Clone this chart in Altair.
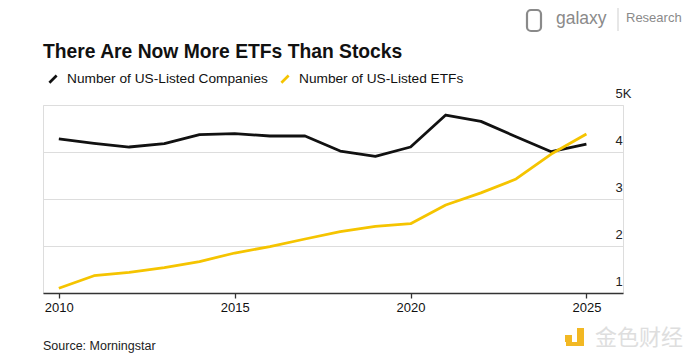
import altair as alt
import pandas as pd

years = list(range(2010, 2026))
companies = [4277, 4185, 4106, 4177, 4368, 4390, 4340, 4340, 4021, 3908, 4106, 4787, 4652, 4326, 4007, 4170]
etfs = [1100, 1368, 1440, 1539, 1667, 1851, 1986, 2149, 2305, 2418, 2475, 2872, 3130, 3426, 3957, 4383]
series_names = ["Number of US-Listed Companies", "Number of US-Listed ETFs"]
series_colors = ["#111111", "#F5C400"]
x_ticks = [2010, 2015, 2020, 2025]
y_ticks = [1000, 2000, 3000, 4000, 5000]
title_text = "There Are Now More ETFs Than Stocks"
source_text = "Source: Morningstar"

df = pd.DataFrame({
    "year": years * 2,
    "value": companies + etfs,
    "series": [series_names[0]] * len(years) + [series_names[1]] * len(years),
})

FONT = "Liberation Sans"

lines = alt.Chart(df).mark_line(strokeWidth=2.8, strokeJoin="round").encode(
    x=alt.X("year:Q",
            scale=alt.Scale(domain=[2009.55, 2026.04], nice=False, zero=False),
            axis=alt.Axis(values=x_ticks, format="d", grid=False, title=None,
                          domainColor="#333333", domainWidth=1.3,
                          tickColor="#333333", tickSize=5, tickWidth=1.3,
                          labelFontSize=13, labelColor="#111111", labelPadding=3,
                          labelFont=FONT)),
    y=alt.Y("value:Q",
            scale=alt.Scale(domain=[1000, 5000], nice=False, zero=False),
            axis=alt.Axis(orient="right", values=y_ticks, title=None,
                          labelExpr="datum.value == 5000 ? '5K' : format(datum.value / 1000, 'd')",
                          grid=True, gridColor="#dddddd", gridWidth=1,
                          domain=False, ticks=False, tickSize=0,
                          labelAlign="left", labelBaseline="alphabetic",
                          labelPadding=-8, labelOffset=-8,
                          labelFontSize=13, labelColor="#222222", labelFont=FONT)),
    color=alt.Color("series:N",
                    scale=alt.Scale(domain=series_names, range=series_colors),
                    legend=alt.Legend(orient="none", legendX=1, legendY=-35,
                                      direction="horizontal", title=None,
                                      symbolType="M-0.5,0.5L0.5,-0.5",
                                      symbolSize=210, symbolStrokeWidth=2.6,
                                      labelFontSize=13.7, labelFont=FONT,
                                      labelColor="#111111", labelOffset=5,
                                      labelLimit=400, columnPadding=8)),
)

title = alt.Chart(pd.DataFrame({"t": [title_text]})).mark_text(
    align="left", baseline="alphabetic", fontSize=19.3, fontWeight="bold",
    font=FONT, color="#111111"
).encode(text="t:N", x=alt.value(0), y=alt.value(-47))

source = alt.Chart(pd.DataFrame({"t": [source_text]})).mark_text(
    align="left", baseline="alphabetic", fontSize=12.5, font=FONT, color="#222222"
).encode(text="t:N", x=alt.value(0), y=alt.value(245))

logo_galaxy = alt.Chart(pd.DataFrame({"t": ["galaxy"]})).mark_text(
    align="left", baseline="alphabetic", fontSize=17.5, font=FONT, color="#8a8a8a"
).encode(text="t:N", x=alt.value(513), y=alt.value(-81))

logo_research = alt.Chart(pd.DataFrame({"t": ["Research"]})).mark_text(
    align="left", baseline="middle", fontSize=13, font=FONT, color="#8a8a8a"
).encode(text="t:N", x=alt.value(583), y=alt.value(-87))

logo_sep = alt.Chart(pd.DataFrame({"a": [0]})).mark_rule(color="#cfcfcf", strokeWidth=1).encode(
    x=alt.value(575), y=alt.value(-99), y2=alt.value(-74))

logo_icon = alt.Chart(pd.DataFrame({"a": [0]})).mark_rect(
    fill="white", stroke="#8a8a8a", strokeWidth=2.2, cornerRadius=4
).encode(x=alt.value(484), x2=alt.value(498), y=alt.value(-95), y2=alt.value(-74))

wm_text = alt.Chart(pd.DataFrame({"t": ["金色财经"]})).mark_text(
    align="left", baseline="middle", fontSize=22, font="Noto Sans CJK SC", color="#dedede"
).encode(text="t:N", x=alt.value(552), y=alt.value(233))

wm_icon_a = alt.Chart(pd.DataFrame({"a": [0]})).mark_rect(fill="#F2B823").encode(
    x=alt.value(522), x2=alt.value(529), y=alt.value(230), y2=alt.value(237))
wm_icon_b = alt.Chart(pd.DataFrame({"a": [0]})).mark_rect(fill="#F2B823").encode(
    x=alt.value(534), x2=alt.value(541), y=alt.value(223), y2=alt.value(241))
wm_icon_c = alt.Chart(pd.DataFrame({"a": [0]})).mark_rect(fill="#F2B823").encode(
    x=alt.value(523), x2=alt.value(541), y=alt.value(237), y2=alt.value(241))

chart = alt.layer(
    lines, title, source, logo_galaxy, logo_research, logo_sep, logo_icon,
    wm_text, wm_icon_a, wm_icon_b, wm_icon_c
).properties(
    width=580, height=188,
    autosize=alt.AutoSizeParams(type="none"),
    padding={"left": 35, "top": 97, "right": 69, "bottom": 60},
).configure_view(stroke=None).configure(background="white")

chart.save("out.html", embed_options={"renderer": "svg", "actions": False})
